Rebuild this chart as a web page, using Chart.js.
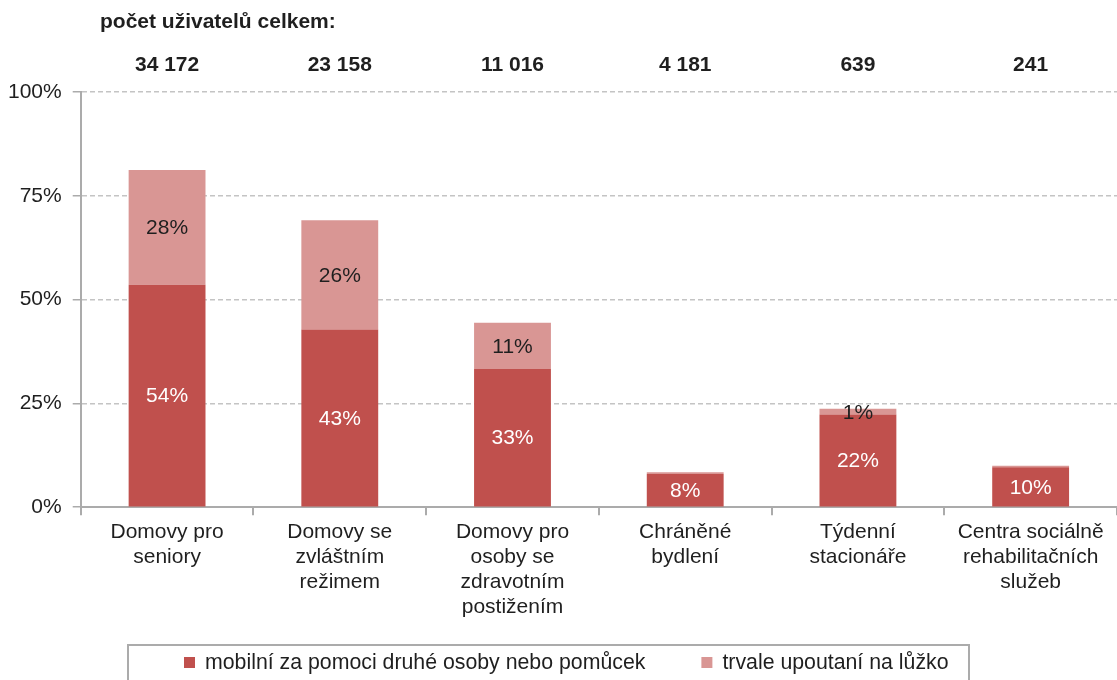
<!DOCTYPE html>
<html>
<head>
<meta charset="utf-8">
<script src="https://cdn.jsdelivr.net/npm/chart.js@4"></script>
<style>
  html, body { margin: 0; padding: 0; background: #fff; }
  #wrap { width: 1117px; height: 680px; position: relative; }
</style>
</head>
<body>
<div id="wrap"><canvas id="chart"></canvas></div>
<script>
// data
const categories = [
  ['Domovy pro', 'seniory'],
  ['Domovy se', 'zvláštním', 'režimem'],
  ['Domovy pro', 'osoby se', 'zdravotním', 'postižením'],
  ['Chráněné', 'bydlení'],
  ['Týdenní', 'stacionáře'],
  ['Centra sociálně', 'rehabilitačních', 'služeb']
];
const mobilni = [53.6, 42.8, 33.3, 8.0, 22.3, 9.6];
const upoutani = [27.6, 26.3, 11.1, 0.4, 1.4, 0.4];
const totalUsers = ['34 172', '23 158', '11 016', '4 181', '639', '241'];
const yTicks = [0, 25, 50, 75, 100];

const FONT = '"Liberation Sans", Arial, sans-serif';
const TEXT = '#1f1f1f';

// % values inside the segments
const segmentLabels = {
  id: 'segmentLabels',
  afterDatasetsDraw(chart) {
    const ctx = chart.ctx;
    ctx.save();
    ctx.font = '21px ' + FONT;
    ctx.textAlign = 'center';
    ctx.textBaseline = 'middle';
    chart.data.datasets.forEach((ds, di) => {
      const meta = chart.getDatasetMeta(di);
      meta.data.forEach((bar, i) => {
        const v = Math.round(ds.data[i]);
        if (v < 1) return;
        ctx.fillStyle = di === 0 ? '#ffffff' : TEXT;
        ctx.fillText(v + '%', bar.x, (bar.y + bar.base) / 2 + 1);
      });
    });
    ctx.restore();
  }
};

// title + totals above the plot, framed legend below
const extras = {
  id: 'extras',
  afterDraw(chart) {
    const ctx = chart.ctx;
    const x = chart.scales.x;
    ctx.save();
    ctx.fillStyle = TEXT;
    ctx.font = 'bold 21px ' + FONT;
    ctx.textBaseline = 'middle';
    ctx.textAlign = 'left';
    ctx.fillText('počet uživatelů celkem:', 100, 22);
    ctx.textAlign = 'center';
    totalUsers.forEach((t, i) => {
      ctx.fillText(t, x.getPixelForValue(i), 65);
    });

    // legend
    ctx.strokeStyle = '#ababab';
    ctx.lineWidth = 2;
    ctx.strokeRect(128, 645, 841, 60);
    ctx.font = '21.3px ' + FONT;
    ctx.textAlign = 'left';
    let lx = 184;
    chart.data.datasets.forEach((ds) => {
      ctx.fillStyle = ds.backgroundColor;
      ctx.fillRect(lx, 657, 11, 11);
      ctx.fillStyle = TEXT;
      ctx.fillText(ds.label, lx + 21, 663);
      lx += 21 + ctx.measureText(ds.label).width + 56;
    });
    ctx.restore();
  }
};

new Chart(document.getElementById('chart'), {
  type: 'bar',
  data: {
    labels: categories,
    datasets: [
      {
        label: 'mobilní za pomoci druhé osoby nebo pomůcek',
        data: mobilni,
        backgroundColor: '#c0504d'
      },
      {
        label: 'trvale upoutaní na lůžko',
        data: upoutani,
        backgroundColor: '#d99694'
      }
    ]
  },
  options: {
    responsive: true,
    maintainAspectRatio: false,
    animation: false,
    layout: { padding: { top: 92, right: 0, bottom: 56, left: -3 } },
    datasets: { bar: { categoryPercentage: 1, barPercentage: 0.445 } },
    plugins: {
      tooltip: { enabled: false },
      legend: { display: false }
    },
    scales: {
      x: {
        stacked: true,
        grid: { display: true, drawOnChartArea: false, color: '#ababab', tickLength: 8, lineWidth: 2 },
        border: { color: '#ababab', width: 2 },
        ticks: { font: { family: FONT, size: 21, lineHeight: 1.2 }, color: TEXT, maxRotation: 0, padding: 4 }
      },
      y: {
        stacked: true,
        min: 0,
        max: 100,
        afterBuildTicks: (s) => { s.ticks = yTicks.map(v => ({ value: v })); },
        grid: {
          color: (c) => c.tick && c.tick.value === 0 ? 'rgba(0,0,0,0)' : '#c4c4c4',
          tickColor: '#ababab',
          tickLength: 8,
          lineWidth: 1.5
        },
        border: { color: '#ababab', width: 2, dash: [5, 3] },
        ticks: { font: { family: FONT, size: 21 }, color: TEXT, padding: 11, callback: (v) => v + '%' }
      }
    }
  },
  plugins: [segmentLabels, extras]
});
</script>
</body>
</html>
